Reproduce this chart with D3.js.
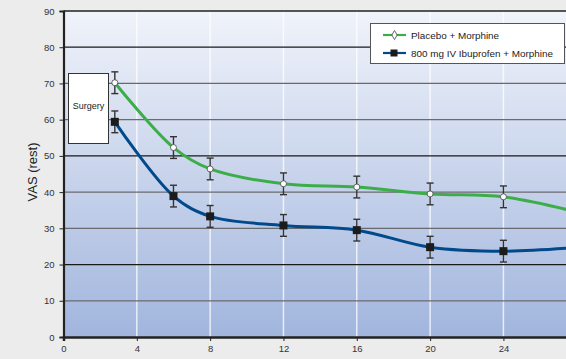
<!DOCTYPE html>
<html><head><meta charset="utf-8">
<script src="https://cdn.jsdelivr.net/npm/d3@7"></script>
<style>html,body{margin:0;padding:0;background:#ececec;overflow:hidden}svg{display:block}</style>
</head><body>
<svg id="c" width="566" height="359"></svg>
<script>
const hours = [2.8, 6, 8, 12, 16, 20, 24, 28];
const placebo = [70.2, 52.3, 46.4, 42.3, 41.4, 39.5, 38.7, 34.5];
const placeboErr = [3, 3, 3, 3, 3, 3, 3, 3];
const ibuprofen = [59.4, 38.9, 33.3, 30.8, 29.5, 24.8, 23.7, 24.7];
const ibuprofenErr = [3, 3, 3, 3, 3, 3, 3, 3];
const xTicks = [0, 4, 8, 12, 16, 20, 24];
const yTicks = [0, 10, 20, 30, 40, 50, 60, 70, 80, 90];
const darkGrid = [20, 50, 80];
const seriesNames = ["Placebo + Morphine", "800 mg IV Ibuprofen + Morphine"];

const svg = d3.select("#c");
const x = d3.scaleLinear().domain([0, 40]).range([63.5, 63.5 + 40 * 18.33]);
const y = d3.scaleLinear().domain([0, 90]).range([337, 11]);
const W = 566;
const font = "Liberation Sans, Arial, sans-serif";

const defs = svg.append("defs");
const g = defs.append("linearGradient").attr("id", "bg").attr("x1", 0).attr("x2", 0).attr("y1", 0).attr("y2", 1);
g.append("stop").attr("offset", "0%").attr("stop-color", "#f0f3fa");
g.append("stop").attr("offset", "100%").attr("stop-color", "#a1b5dd");

svg.append("rect").attr("x", x(0)).attr("y", y(90)).attr("width", W - x(0) + 5).attr("height", y(0) - y(90)).attr("fill", "url(#bg)");

// vertical white grid
svg.append("g").selectAll("line").data(xTicks.filter(d => d > 0)).join("line")
  .attr("x1", d => x(d)).attr("x2", d => x(d)).attr("y1", y(90)).attr("y2", y(0))
  .attr("stroke", "#ffffff").attr("stroke-opacity", 0.75).attr("stroke-width", 1.5);

// horizontal grid
svg.append("g").selectAll("line").data(yTicks.filter(d => d > 0 && d < 90)).join("line")
  .attr("x1", x(0)).attr("x2", W).attr("y1", d => y(d)).attr("y2", d => y(d))
  .attr("stroke", d => darkGrid.includes(d) ? "#1a1a1a" : "#6a6a6e").attr("stroke-width", 1.3);
svg.append("line").attr("x1", x(0)).attr("x2", W).attr("y1", y(90)).attr("y2", y(90)).attr("stroke", "#222").attr("stroke-width", 1.5);

// axes
const yAxis = d3.axisLeft(y).tickValues(yTicks).tickSize(4).tickPadding(5);
const ya = svg.append("g").attr("transform", `translate(${x(0)},0)`).call(yAxis);
ya.select(".domain").attr("stroke", "#222").attr("stroke-width", 2.2);
ya.selectAll(".tick line").attr("stroke", "#222");
ya.selectAll("text").attr("font-family", font).attr("font-size", 9.5).attr("fill", "#333");

const xAxis = d3.axisBottom(x).tickValues(xTicks).tickSize(4).tickPadding(4);
const xa = svg.append("g").attr("transform", `translate(0,${y(0)})`).call(xAxis);
xa.select(".domain").attr("stroke", "#222").attr("stroke-width", 2.5);
xa.selectAll(".tick line").attr("stroke", "#222");
xa.selectAll("text").attr("font-family", font).attr("font-size", 9.5).attr("fill", "#333");

svg.append("text").attr("transform", "translate(37,172) rotate(-90)").attr("text-anchor", "middle")
  .attr("font-family", font).attr("font-size", 13).attr("fill", "#222").text("VAS (rest)");

// surgery box
svg.append("rect").attr("x", 68.5).attr("y", 73.5).attr("width", 40).attr("height", 70).attr("fill", "#fff").attr("stroke", "#333").attr("stroke-width", 1);
svg.append("text").attr("x", 88.5).attr("y", 108.5).attr("text-anchor", "middle")
  .attr("font-family", font).attr("font-size", 9).attr("fill", "#222").text("Surgery");

const line = d3.line().x((d, i) => x(hours[i])).y(d => y(d)).curve(d3.curveCatmullRom.alpha(0.5));

const plot = svg.append("g");
plot.append("path").datum(placebo).attr("d", line).attr("fill", "none").attr("stroke", "#3cae49").attr("stroke-width", 3);
plot.append("path").datum(ibuprofen).attr("d", line).attr("fill", "none").attr("stroke", "#004a8c").attr("stroke-width", 3);

function errBars(vals, errs) {
  const eg = plot.append("g").attr("stroke", "#333").attr("stroke-width", 1.4);
  vals.forEach((v, i) => {
    const cx = x(hours[i]);
    eg.append("line").attr("x1", cx).attr("x2", cx).attr("y1", y(v + errs[i])).attr("y2", y(v - errs[i]));
    eg.append("line").attr("x1", cx - 3.5).attr("x2", cx + 3.5).attr("y1", y(v + errs[i])).attr("y2", y(v + errs[i]));
    eg.append("line").attr("x1", cx - 3.5).attr("x2", cx + 3.5).attr("y1", y(v - errs[i])).attr("y2", y(v - errs[i]));
  });
}
errBars(placebo, placeboErr);
errBars(ibuprofen, ibuprofenErr);

plot.append("g").selectAll("circle").data(placebo).join("circle")
  .attr("cx", (d, i) => x(hours[i])).attr("cy", d => y(d)).attr("r", 3)
  .attr("fill", "#fff").attr("stroke", "#444").attr("stroke-width", 0.8);
plot.append("g").selectAll("rect").data(ibuprofen).join("rect")
  .attr("x", (d, i) => x(hours[i]) - 4).attr("y", d => y(d) - 4).attr("width", 8).attr("height", 8)
  .attr("fill", "#1c1c1c");

// legend
const lg = svg.append("g");
lg.append("rect").attr("x", 370.5).attr("y", 23.5).attr("width", 194).attr("height", 40).attr("fill", "#fff").attr("stroke", "#555").attr("stroke-width", 1);
const rows = [35, 53];
lg.append("line").attr("x1", 383).attr("x2", 406).attr("y1", rows[0]).attr("y2", rows[0]).attr("stroke", "#3cae49").attr("stroke-width", 2.2);
lg.append("path").attr("d", d3.symbol(d3.symbolDiamond, 24)()).attr("transform", `translate(394.5,${rows[0]})`).attr("fill", "#fff").attr("stroke", "#444").attr("stroke-width", 0.8);
lg.append("line").attr("x1", 383).attr("x2", 406).attr("y1", rows[1]).attr("y2", rows[1]).attr("stroke", "#004a8c").attr("stroke-width", 2.2);
lg.append("rect").attr("x", 390.5).attr("y", rows[1] - 3.5).attr("width", 7).attr("height", 7).attr("fill", "#1c1c1c");
lg.selectAll("text.l").data(seriesNames).join("text").attr("class", "l")
  .attr("x", 411).attr("y", (d, i) => rows[i] + 3.5)
  .attr("font-family", font).attr("font-size", 9.9).attr("fill", "#222").text(d => d);
</script>
</body></html>
